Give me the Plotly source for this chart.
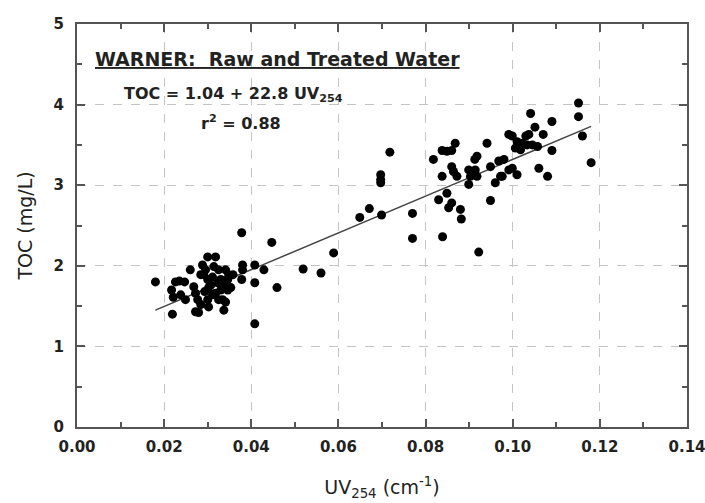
import plotly.graph_objects as go

# Cluster of low UV254 samples
uv_low = [0.018, 0.0219, 0.0217, 0.0221, 0.0226, 0.0235, 0.0247, 0.0268, 0.0272, 0.0277,
          0.0272, 0.0279, 0.0288, 0.0291, 0.030, 0.0302, 0.030, 0.0302, 0.030, 0.0318,
          0.0314, 0.0311, 0.0323, 0.0318, 0.033, 0.0334, 0.0337, 0.0341, 0.0346, 0.0348,
          0.0353, 0.0346, 0.0378, 0.038, 0.038, 0.0378, 0.0408, 0.0408, 0.0408, 0.0429,
          0.0447, 0.0459, 0.0519, 0.056, 0.0284, 0.0295, 0.0307, 0.0311, 0.0325, 0.033,
          0.0337, 0.0293, 0.0284, 0.0249, 0.0238, 0.026, 0.0341, 0.0358, 0.0325]
toc_low = [1.80, 1.40, 1.70, 1.61, 1.80, 1.81, 1.80, 1.74, 1.66, 1.58,
           1.43, 1.42, 2.01, 1.89, 1.83, 1.73, 1.58, 1.49, 2.11, 2.11,
           1.99, 1.86, 1.79, 1.66, 1.70, 1.58, 1.45, 1.55, 1.83, 1.89,
           1.73, 1.70, 2.41, 2.01, 1.95, 1.83, 2.01, 1.79, 1.28, 1.95,
           2.29, 1.73, 1.96, 1.91, 1.89, 1.95, 1.76, 1.64, 1.95, 1.83,
           1.76, 1.68, 1.52, 1.58, 1.64, 1.95, 1.95, 1.89, 1.58]

# Intermediate samples
uv_mid = [0.0589, 0.0649, 0.0671, 0.0699, 0.0697, 0.0697, 0.0697, 0.0718]
toc_mid = [2.16, 2.60, 2.71, 2.63, 3.13, 3.07, 3.03, 3.41]

# Cluster of high UV254 samples
uv_high = [0.077, 0.077, 0.0818, 0.0838, 0.0849, 0.086, 0.0868, 0.0838, 0.086, 0.0864,
           0.0872, 0.083, 0.0849, 0.0853, 0.086, 0.088, 0.0882, 0.0839, 0.0922, 0.0899,
           0.0903, 0.091, 0.0914, 0.0918, 0.0899, 0.0913, 0.0918, 0.0941, 0.0949, 0.0968,
           0.096, 0.0972, 0.0949, 0.098, 0.0991, 0.0991, 0.0976, 0.0999, 0.0999, 0.101,
           0.101, 0.1006, 0.1018, 0.1022, 0.103, 0.1037, 0.1033, 0.1045, 0.1057, 0.1041,
           0.1051, 0.106, 0.107, 0.108, 0.109, 0.109, 0.1151, 0.1151, 0.116, 0.118]
toc_high = [2.65, 2.34, 3.32, 3.43, 3.42, 3.43, 3.52, 3.11, 3.23, 3.17,
            3.11, 2.82, 2.90, 2.72, 2.78, 2.70, 2.58, 2.36, 2.17, 3.19,
            3.11, 3.15, 3.19, 3.11, 3.01, 3.32, 3.36, 3.52, 3.23, 3.30,
            3.03, 3.11, 2.81, 3.32, 3.63, 3.19, 3.11, 3.61, 3.21, 3.54,
            3.13, 3.46, 3.44, 3.52, 3.61, 3.63, 3.50, 3.50, 3.48, 3.89,
            3.72, 3.21, 3.63, 3.11, 3.79, 3.43, 4.02, 3.85, 3.61, 3.28]

# Regression: TOC = 1.04 + 22.8 UV254
intercept = 1.04
slope = 22.8
fit_x = [0.018, 0.118]
fit_y = [intercept + slope * v for v in fit_x]

x_ticks = [0.00, 0.02, 0.04, 0.06, 0.08, 0.10, 0.12, 0.14]
x_tick_labels = ["0.00", "0.02", "0.04", "0.06", "0.08", "0.10", "0.12", "0.14"]
y_ticks = [0, 1, 2, 3, 4, 5]
y_tick_labels = ["0", "1", "2", "3", "4", "5"]

uv_all = uv_low + uv_mid + uv_high
toc_all = toc_low + toc_mid + toc_high

FONT = "DejaVu Sans"
AX = "#555555"

fig = go.Figure()
fig.add_trace(go.Scatter(x=fit_x, y=fit_y, mode="lines",
                         line=dict(color="#444444", width=1.5), showlegend=False))
fig.add_trace(go.Scatter(x=uv_all, y=toc_all, mode="markers",
                         marker=dict(color="black", size=9), showlegend=False))

axis_common = dict(
    showline=True, linecolor=AX, linewidth=2, mirror="ticks",
    ticks="inside", ticklen=8, tickwidth=2, tickcolor=AX,
    showgrid=True, gridcolor="#c4c4c4", griddash="dash", gridwidth=1,
    zeroline=False, automargin=False, ticklabeloverflow="allow",
    tickfont=dict(family=FONT, size=15, color="#222222", weight="bold"),
)

fig.update_xaxes(range=[0, 0.14000001], tickmode="array", tickvals=x_ticks, ticktext=x_tick_labels,
                 minor=dict(ticks="inside", ticklen=5, tickwidth=1.5, tickcolor=AX,
                            dtick=0.01, tick0=0, showgrid=False),
                 title=dict(text="UV<sub>254</sub> (cm<sup>-1</sup>)",
                            font=dict(family=FONT, size=19, color="#222222"), standoff=26),
                 ticklabelstandoff=5,
                 **axis_common)
fig.update_yaxes(range=[0, 5.0000001], tickmode="array", tickvals=y_ticks, ticktext=y_tick_labels,
                 minor=dict(ticks="inside", ticklen=5, tickwidth=1.5, tickcolor=AX,
                            dtick=0.5, tick0=0, showgrid=False),
                 title=dict(text="TOC (mg/L)",
                            font=dict(family=FONT, size=19, color="#222222"), standoff=16),
                 ticklabelstandoff=8,
                 **axis_common)

fig.add_annotation(x=0.0037, y=4.56, xref="x", yref="y", xanchor="left", yanchor="middle",
                   text="<u>WARNER:  Raw and Treated Water</u>", showarrow=False,
                   font=dict(family=FONT, size=19, color="#222222", weight="bold"))
fig.add_annotation(x=0.0104, y=4.13, xref="x", yref="y", xanchor="left", yanchor="middle",
                   text="TOC = 1.04 + 22.8 UV<sub>254</sub>", showarrow=False,
                   font=dict(family=FONT, size=16, color="#222222", weight="bold"))
fig.add_annotation(x=0.0279, y=3.78, xref="x", yref="y", xanchor="left", yanchor="middle",
                   text="r<sup>2</sup> = 0.88", showarrow=False,
                   font=dict(family=FONT, size=16, color="#222222", weight="bold"))

fig.update_layout(
    width=705, height=503,
    margin=dict(l=77, r=18, t=24, b=76),
    paper_bgcolor="white", plot_bgcolor="white",
    font=dict(family=FONT, color="#222222"),
)

fig.write_html("out.html")
